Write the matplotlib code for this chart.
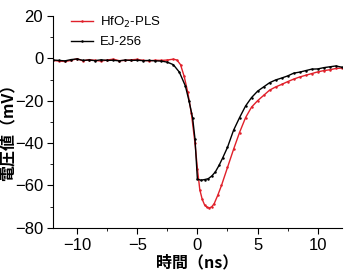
import matplotlib
matplotlib.use('Agg')
import matplotlib.pyplot as plt
import matplotlib.ticker as ticker

# EJ-256 (black)
t_ej = [-12, -11.5, -11, -10.5, -10, -9.5, -9, -8.5, -8, -7.5, -7, -6.5, -6, -5.5, -5,
        -4.5, -4, -3.5, -3, -2.5, -2, -1.5, -1, -0.7, -0.4, -0.2, 0, 0.3, 0.6, 0.9,
        1.2, 1.5, 1.8, 2.1, 2.5, 3, 3.5, 4, 4.5, 5, 5.5, 6, 6.5, 7, 7.5, 8, 8.5, 9,
        9.5, 10, 10.5, 11, 11.5, 12]
v_ej = [-0.8, -1.0, -1.2, -0.6, -0.3, -1.0, -0.8, -1.1, -0.7, -1.0, -0.9, -1.2, -0.8,
        -1.0, -0.9, -1.1, -1.0, -1.2, -1.3, -1.8, -3.0, -6.5, -13, -20, -28, -38, -57,
        -57.5, -57.2, -56.8, -55.5, -53.5, -50.5, -47, -42, -34, -28, -22.5, -18.5,
        -15.5, -13.5, -11.5, -10.2, -9.3, -8.3, -7.0, -6.5, -5.8, -5.1, -5.0, -4.4,
        -4.0, -3.6, -4.2]

# HfO2-PLS (red)
t_hf = [-12, -11.5, -11, -10.5, -10, -9.5, -9, -8.5, -8, -7.5, -7, -6.5, -6, -5.5, -5,
        -4.5, -4, -3.5, -3, -2.5, -2, -1.7, -1.4, -1.1, -0.8, -0.5, -0.2, 0, 0.2, 0.4,
        0.6, 0.8, 1.0, 1.2, 1.4, 1.7, 2.0, 2.5, 3, 3.5, 4, 4.5, 5, 5.5, 6, 6.5, 7, 7.5,
        8, 8.5, 9, 9.5, 10, 10.5, 11, 11.5, 12]
v_hf = [-1.0, -1.3, -1.5, -1.0, -0.2, -1.2, -0.6, -1.0, -1.3, -0.8, -0.4, -1.1, -1.0,
        -0.7, -0.5, -1.0, -1.2, -0.9, -1.0, -0.8, -0.4, -0.8, -3.0, -8.5, -16, -26, -40,
        -52, -62, -66.5, -69.2, -70.3, -70.6, -70, -68.5, -64.5, -60, -51.5, -43, -35,
        -28, -23, -20, -17.5, -15, -13.5, -12.3, -11, -9.8, -8.8, -8, -7.2, -6.4, -5.8,
        -5.4, -4.8, -4.6]

cjk = ['Noto Sans CJK JP', 'DejaVu Sans']
plt.rcParams['font.family'] = ['Liberation Sans', 'DejaVu Sans']

fig = plt.figure(figsize=(3.46, 2.7), dpi=100)
ax = fig.add_axes([0.153, 0.156, 0.835, 0.785])

ax.plot(t_hf, v_hf, color='#e0202a', lw=1.0, marker='o', ms=0.8, label='HfO$_2$-PLS')
ax.plot(t_ej, v_ej, color='black', lw=1.0, marker='o', ms=0.8, label='EJ-256')

ax.set_xlim(-12, 12)
ax.set_ylim(-80, 20)
ax.xaxis.set_major_locator(ticker.MultipleLocator(5))
ax.xaxis.set_minor_locator(ticker.MultipleLocator(2.5))
ax.yaxis.set_major_locator(ticker.MultipleLocator(20))
ax.yaxis.set_minor_locator(ticker.MultipleLocator(10))
ax.tick_params(which='major', direction='out', length=4, labelsize=12, pad=3)
ax.tick_params(which='minor', direction='out', length=2.5)
for s in ['top', 'right']:
    ax.spines[s].set_visible(False)

ax.set_xlabel('時間（ns）', family=cjk, fontsize=11.5, fontweight='bold')
ax.set_ylabel('電圧値（mV）', family=cjk, fontsize=11.5, fontweight='bold')
ax.xaxis.set_label_coords(0.5, -0.125)
ax.yaxis.set_label_coords(-0.13, 0.47)

ax.legend(loc='upper left', bbox_to_anchor=(0.02, 1.06), frameon=False, fontsize=9.5,
          handlelength=1.7, handletextpad=0.5, labelspacing=0.45)

fig.savefig('out.png', dpi=100)
